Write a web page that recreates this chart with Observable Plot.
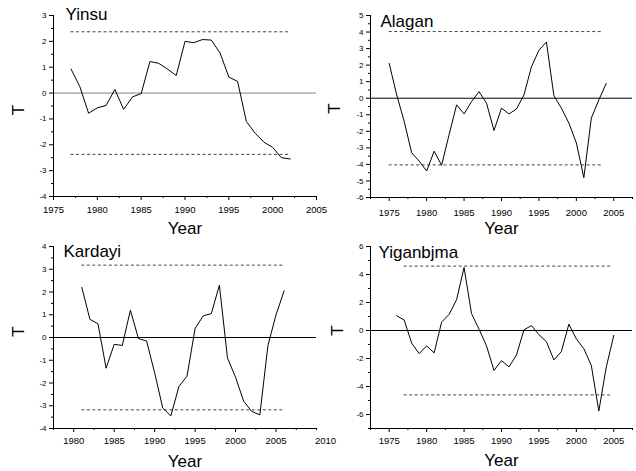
<!DOCTYPE html>
<html><head><meta charset="utf-8">
<script src="https://cdn.jsdelivr.net/npm/d3@7"></script>
<script src="https://cdn.jsdelivr.net/npm/@observablehq/plot@0.6"></script>
<style>
body{margin:0;background:#fff}
#fig{position:relative;width:636px;height:471px;font-family:"Liberation Sans",Arial,Helvetica,sans-serif;overflow:hidden}
#fig > .panel{position:absolute}
</style></head><body><div id="fig"></div>
<script>
// ---- data ----
const yinsuYears = [1977,1978,1979,1980,1981,1982,1983,1984,1985,1986,1987,1988,1989,1990,1991,1992,1993,1994,1995,1996,1997,1998,1999,2000,2001,2002];
const yinsuT = [0.93,0.25,-0.78,-0.57,-0.48,0.14,-0.63,-0.15,-0.02,1.22,1.15,0.93,0.68,2.0,1.95,2.07,2.05,1.55,0.62,0.45,-1.1,-1.55,-1.9,-2.1,-2.5,-2.55];

const alaganYears = [1975,1976,1977,1978,1979,1980,1981,1982,1983,1984,1985,1986,1987,1988,1989,1990,1991,1992,1993,1994,1995,1996,1997,1998,1999,2000,2001,2002,2003,2004];
const alaganT = [2.1,0.2,-1.4,-3.3,-3.8,-4.4,-3.2,-4.05,-2.2,-0.4,-0.95,-0.2,0.4,-0.3,-1.95,-0.6,-0.95,-0.65,0.2,1.9,2.9,3.4,0.15,-0.6,-1.5,-2.7,-4.8,-1.2,-0.1,0.9];

const kardayiYears = [1981,1982,1983,1984,1985,1986,1987,1988,1989,1990,1991,1992,1993,1994,1995,1996,1997,1998,1999,2000,2001,2002,2003,2004,2005,2006];
const kardayiT = [2.2,0.8,0.6,-1.35,-0.3,-0.35,1.2,-0.05,-0.15,-1.55,-3.1,-3.45,-2.15,-1.7,0.4,0.95,1.05,2.3,-0.9,-1.75,-2.8,-3.25,-3.4,-0.35,1.0,2.05];

const yiganYears = [1976,1977,1978,1979,1980,1981,1982,1983,1984,1985,1986,1987,1988,1989,1990,1991,1992,1993,1994,1995,1996,1997,1998,1999,2000,2001,2002,2003,2004,2005];
const yiganT = [1.05,0.75,-0.9,-1.65,-1.1,-1.6,0.6,1.15,2.2,4.5,1.2,0.1,-1.1,-2.85,-2.15,-2.6,-1.75,0.05,0.35,-0.3,-0.8,-2.1,-1.5,0.45,-0.6,-1.3,-2.5,-5.75,-2.6,-0.35];

// critical values (dashed lines) and their spans
const yinsuCrit = 2.37,  yinsuCritSpan = [1977, 2002];
const alaganCrit = 4.03, alaganCritSpan = [1975, 2003.5];
const kardayiCrit = 3.18, kardayiCritSpan = [1981, 2006];
const yiganCrit = 4.6,   yiganCritSpan = [1977, 2004.6];

// axis domains and ticks
const yinsuX = [1975, 2005], yinsuY = [-4, 3];
const alaganX = [1972.5, 2007.5], alaganY = [-6, 5];
const kardayiX = [1977.5, 2010], kardayiY = [-4, 4];
const yiganX = [1972.5, 2007.5], yiganY = [-7, 6];

const yinsuXTicks = [1975,1980,1985,1990,1995,2000,2005];
const yinsuXMinor = [1977.5,1982.5,1987.5,1992.5,1997.5,2002.5];
const yinsuYTicks = [-4,-3,-2,-1,0,1,2,3];
const yinsuYMinor = [-3.5,-2.5,-1.5,-0.5,0.5,1.5,2.5];

const alaganXTicks = [1975,1980,1985,1990,1995,2000,2005];
const alaganXMinor = [1972.5,1977.5,1982.5,1987.5,1992.5,1997.5,2002.5,2007.5];
const alaganYTicks = [-6,-5,-4,-3,-2,-1,0,1,2,3,4,5];
const alaganYMinor = [-5.5,-4.5,-3.5,-2.5,-1.5,-0.5,0.5,1.5,2.5,3.5,4.5];

const kardayiXTicks = [1980,1985,1990,1995,2000,2005];
const kardayiXLast = [2010];
const kardayiXMinor = [1977.5,1982.5,1987.5,1992.5,1997.5,2002.5,2007.5,2010];
const kardayiYTicks = [-4,-3,-2,-1,0,1,2,3,4];
const kardayiYMinor = [-3.5,-2.5,-1.5,-0.5,0.5,1.5,2.5,3.5];

const yiganXTicks = [1975,1980,1985,1990,1995,2000,2005];
const yiganXMinor = [1972.5,1977.5,1982.5,1987.5,1992.5,1997.5,2002.5,2007.5];
const yiganYTicks = [-6,-4,-2,0,2,4,6];
const yiganYMinor = [-7,-5,-3,-1,1,3,5];

const titles = ["Yinsu", "Alagan", "Kardayi", "Yiganbjma"];
const xLabel = "Year", yLabel = "T";

// ---- layout ----
const FONT = '"Liberation Sans", Arial, Helvetica, sans-serif';
const panels = [
  {title: titles[0], years: yinsuYears, values: yinsuT, crit: yinsuCrit, span: yinsuCritSpan,
   xd: yinsuX, yd: yinsuY, xt: yinsuXTicks, xm: yinsuXMinor, yt: yinsuYTicks, ym: yinsuYMinor,
   left: 0, top: 0, h: 235, ml: 53, mr: 2, mt: 15, mb: 39, zero: "#808080",
   tdx: 12, tdy: -8, Tdx: -30, Tdy: 4, Ydy: 37, xpad: 6},
  {title: titles[1], years: alaganYears, values: alaganT, crit: alaganCrit, span: alaganCritSpan,
   xd: alaganX, yd: alaganY, xt: alaganXTicks, xm: alaganXMinor, yt: alaganYTicks, ym: alaganYMinor,
   left: 318, top: 0, h: 235, ml: 52, mr: 4, mt: 15, mb: 38, zero: "#000",
   tdx: 10, tdy: -1, Tdx: -31, Tdy: 2, Ydy: 36, xpad: 8},
  {title: titles[2], years: kardayiYears, values: kardayiT, crit: kardayiCrit, span: kardayiCritSpan,
   xd: kardayiX, yd: kardayiY, xt: kardayiXTicks, xm: kardayiXMinor, yt: kardayiYTicks, ym: kardayiYMinor,
   xlast: kardayiXLast,
   left: 0, top: 235, h: 236, ml: 53, mr: 2, mt: 11, mb: 43, zero: "#000",
   tdx: 10, tdy: -2, Tdx: -30, Tdy: -6, Ydy: 38, xpad: 5},
  {title: titles[3], years: yiganYears, values: yiganT, crit: yiganCrit, span: yiganCritSpan,
   xd: yiganX, yd: yiganY, xt: yiganXTicks, xm: yiganXMinor, yt: yiganYTicks, ym: yiganYMinor,
   left: 318, top: 235, h: 236, ml: 52, mr: 4, mt: 11, mb: 43, zero: "#000",
   tdx: 8, tdy: -1, Tdx: -28, Tdy: -7, Ydy: 37, xpad: 5}
];

const fig = document.getElementById("fig");
const fmt = d => String(d);

for (const p of panels) {
  const data = p.years.map((year, i) => ({year, t: p.values[i]}));
  const crit = [p.crit, -p.crit].map(y => ({y, x1: p.span[0], x2: p.span[1]}));
  const marks = [
    Plot.ruleY([0], {stroke: p.zero, strokeWidth: 1}),
    Plot.ruleY(crit, {y: "y", x1: "x1", x2: "x2", stroke: "#444", strokeWidth: 1, strokeDasharray: "3,2.5"}),
    Plot.line(data, {x: "year", y: "t", stroke: "#000", strokeWidth: 1}),
    Plot.axisY({ticks: p.yt, tickSize: 4, tickPadding: 3, fontSize: 8, tickFormat: fmt, label: null}),
    Plot.axisY({ticks: p.ym, tickSize: 2, text: null, label: null}),
    Plot.axisX({ticks: p.xt, tickSize: 4, tickPadding: p.xpad, fontSize: 9.5, tickFormat: fmt, label: null}),
    Plot.axisX({ticks: p.xm, tickSize: 2, text: null, label: null}),
    Plot.ruleX([p.xd[0]], {stroke: "#000", strokeWidth: 1}),
    Plot.ruleY([p.yd[0]], {stroke: "#000", strokeWidth: 1}),
    Plot.text([p.title], {frameAnchor: "top-left", textAnchor: "start", lineAnchor: "top", dx: p.tdx, dy: p.tdy, fontSize: 17, fill: "#000"}),
    Plot.text([yLabel], {frameAnchor: "left", rotate: -90, textAnchor: "middle", lineAnchor: "bottom", dx: p.Tdx, dy: p.Tdy, fontSize: 17, fill: "#000"}),
    Plot.text([xLabel], {frameAnchor: "bottom", textAnchor: "middle", lineAnchor: "bottom", dy: p.Ydy, fontSize: 17, fill: "#000"})
  ];
  if (p.xlast) {
    marks.push(Plot.axisX({ticks: p.xlast, tickSize: 4, tickPadding: p.xpad, fontSize: 9.5, tickFormat: fmt, label: null, dx: 9, stroke: "none"}));
  }
  const chart = Plot.plot({
    width: 318, height: p.h,
    marginLeft: p.ml, marginRight: p.mr, marginTop: p.mt, marginBottom: p.mb,
    x: {domain: p.xd, axis: null},
    y: {domain: p.yd, axis: null},
    style: {fontFamily: FONT, background: "transparent", overflow: "visible", color: "#000"},
    marks
  });
  const wrap = document.createElement("div");
  wrap.className = "panel";
  wrap.style.left = p.left + "px";
  wrap.style.top = p.top + "px";
  wrap.appendChild(chart);
  fig.appendChild(wrap);
}
</script></body></html>
